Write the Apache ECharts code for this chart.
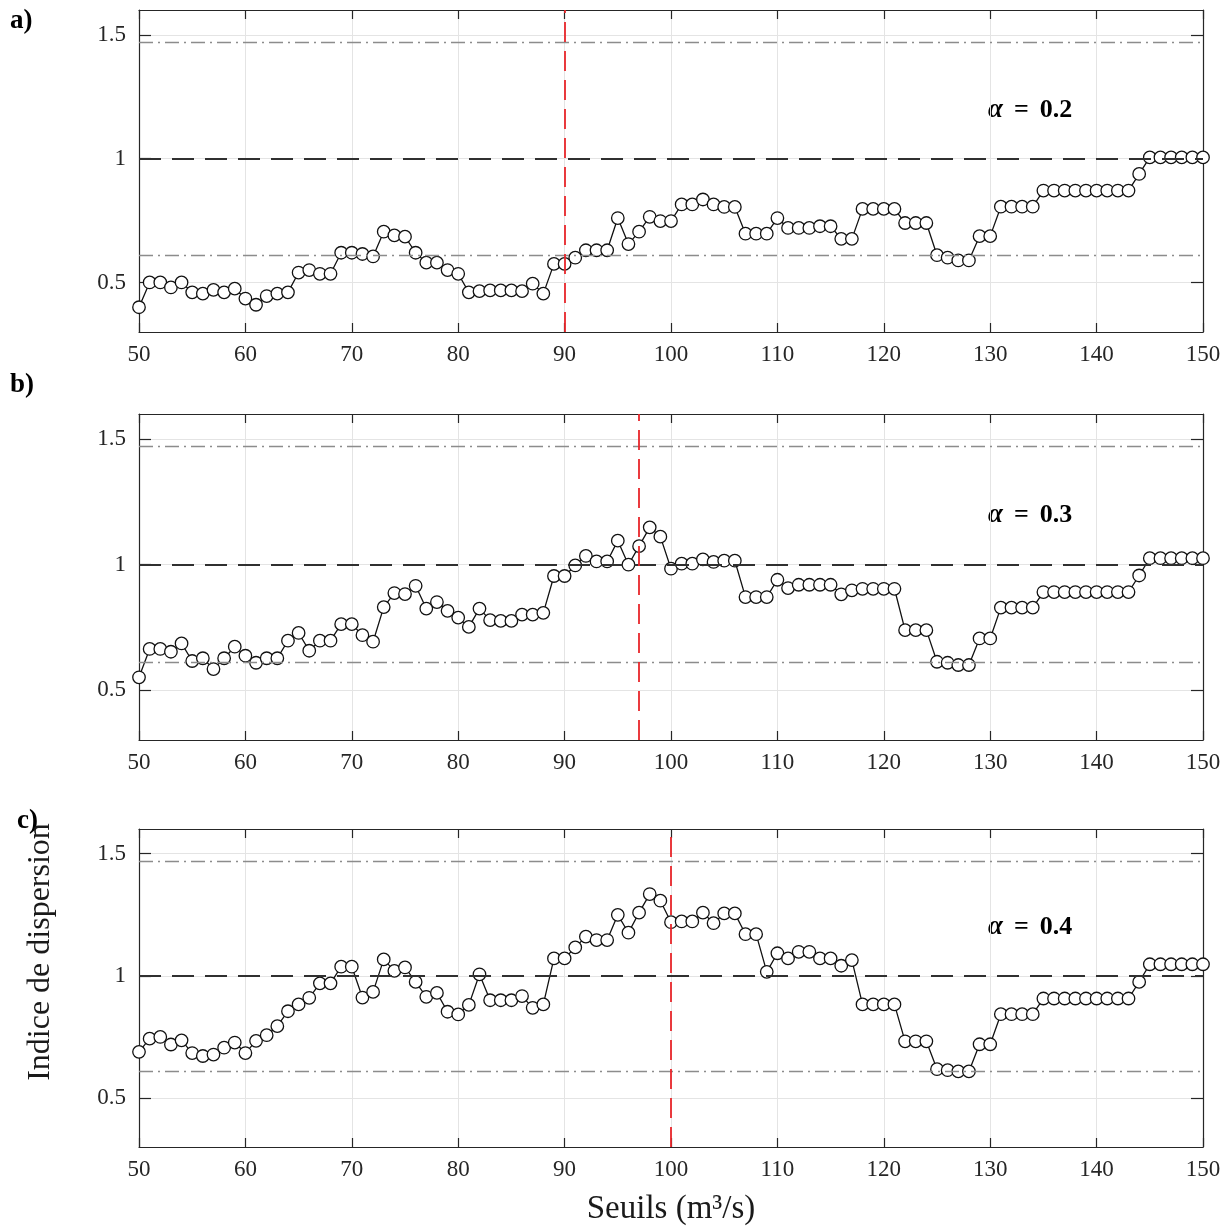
<!DOCTYPE html>
<html><head><meta charset="utf-8">
<script src="https://cdn.jsdelivr.net/npm/echarts@6/dist/echarts.min.js"></script>
<style>html,body{margin:0;padding:0;background:#fff}#c{width:1232px;height:1227px}</style>
</head><body><div id="c"></div><script>
// Thresholds (m3/s)
const thresholds = [
  50,51,52,53,54,55,56,57,58,59,
  60,61,62,63,64,65,66,67,68,69,
  70,71,72,73,74,75,76,77,78,79,
  80,81,82,83,84,85,86,87,88,89,
  90,91,92,93,94,95,96,97,98,99,
  100,101,102,103,104,105,106,107,108,109,
  110,111,112,113,114,115,116,117,118,119,
  120,121,122,123,124,125,126,127,128,129,
  130,131,132,133,134,135,136,137,138,139,
  140,141,142,143,144,145,146,147,148,149,
  150];
// Dispersion index, alpha = 0.2
const alpha02 = [
  0.40,0.50,0.50,0.48,0.50,0.46,0.455,0.47,0.46,0.475,
  0.435,0.41,0.445,0.455,0.46,0.54,0.55,0.535,0.535,0.62,
  0.62,0.615,0.605,0.705,0.69,0.685,0.62,0.58,0.58,0.55,
  0.535,0.46,0.465,0.468,0.468,0.468,0.465,0.495,0.455,0.575,
  0.575,0.60,0.63,0.63,0.63,0.76,0.655,0.705,0.765,0.748,
  0.748,0.815,0.815,0.835,0.815,0.805,0.805,0.697,0.697,0.697,
  0.76,0.72,0.72,0.72,0.727,0.727,0.676,0.676,0.797,0.797,
  0.797,0.797,0.74,0.74,0.74,0.61,0.60,0.589,0.589,0.687,
  0.687,0.806,0.806,0.806,0.806,0.871,0.871,0.871,0.871,0.871,
  0.871,0.871,0.871,0.871,0.938,1.005,1.005,1.005,1.005,1.005,
  1.005];
// alpha = 0.3
const alpha03 = [
  0.55,0.663,0.663,0.652,0.685,0.615,0.626,0.583,0.626,0.672,
  0.636,0.608,0.626,0.626,0.696,0.727,0.656,0.696,0.696,0.762,
  0.762,0.718,0.692,0.83,0.886,0.882,0.915,0.824,0.85,0.815,
  0.788,0.751,0.824,0.778,0.775,0.775,0.80,0.80,0.807,0.954,
  0.954,0.996,1.034,1.012,1.012,1.095,0.999,1.073,1.148,1.111,
  0.983,1.003,1.003,1.02,1.01,1.015,1.015,0.87,0.87,0.87,
  0.939,0.906,0.919,0.919,0.919,0.919,0.881,0.897,0.903,0.903,
  0.903,0.903,0.738,0.738,0.738,0.612,0.608,0.599,0.599,0.705,
  0.705,0.828,0.828,0.828,0.828,0.89,0.89,0.89,0.89,0.89,
  0.89,0.89,0.89,0.89,0.956,1.025,1.025,1.025,1.025,1.025,
  1.025];
// alpha = 0.4
const alpha04 = [
  0.689,0.743,0.75,0.719,0.736,0.684,0.672,0.678,0.706,0.727,
  0.684,0.734,0.757,0.794,0.855,0.883,0.91,0.969,0.969,1.037,
  1.037,0.911,0.934,1.067,1.02,1.034,0.975,0.914,0.93,0.853,
  0.842,0.881,1.006,0.90,0.90,0.90,0.917,0.869,0.883,1.071,
  1.071,1.116,1.16,1.146,1.146,1.249,1.176,1.258,1.334,1.307,
  1.219,1.222,1.222,1.258,1.215,1.255,1.255,1.17,1.17,1.016,
  1.092,1.071,1.098,1.098,1.071,1.071,1.041,1.064,0.883,0.883,
  0.883,0.883,0.732,0.732,0.732,0.618,0.614,0.609,0.609,0.72,
  0.72,0.843,0.843,0.843,0.843,0.907,0.907,0.907,0.907,0.907,
  0.907,0.907,0.907,0.907,0.975,1.047,1.047,1.047,1.047,1.047,
  1.047];
const panelLabels = ['a)', 'b)', 'c)'];
const alphaValues = ['0.2', '0.3', '0.4'];
const optimalThresholds = [90, 97, 100];
const unityLine = 1;
const upperBound = 1.47;
const lowerBound = 0.61;
const yTickValues = [0.5, 1, 1.5];
const xTickValues = [50, 60, 70, 80, 90, 100, 110, 120, 130, 140, 150];
const xName = 'Seuils (m³/s)';
const yName = 'Indice de dispersion';

const seriesValues = [alpha02, alpha03, alpha04];
const FONT = '"Liberation Serif", "Times New Roman", serif';
const grids = [
  {left: 139, width: 1064, top: 10, height: 322},
  {left: 139, width: 1064, top: 414, height: 326},
  {left: 139, width: 1064, top: 829, height: 318}
];
const axisColor = '#262626';
const xAxes = [], yAxes = [], series = [];
grids.forEach((g, i) => {
  const common = {
    type: 'value', gridIndex: i, min: 50, max: 150,
    axisLine: {show: true, lineStyle: {color: axisColor, width: 1.2}},
    axisTick: {show: true, inside: true, length: 9, lineStyle: {color: axisColor, width: 1.2}, customValues: xTickValues},
  };
  xAxes.push(Object.assign({}, common, {
    position: 'bottom',
    axisLabel: {show: true, fontSize: 23, fontFamily: FONT, color: axisColor, margin: 11, customValues: xTickValues},
    splitLine: {show: true, lineStyle: {color: '#e4e4e4', width: 1}}
  }));
  xAxes.push(Object.assign({}, common, {
    position: 'top', axisLabel: {show: false}, splitLine: {show: false}
  }));
  const ycommon = {
    type: 'value', gridIndex: i, min: 0.3, max: 1.6,
    axisLine: {show: true, lineStyle: {color: axisColor, width: 1.2}},
    axisTick: {show: true, inside: true, length: 12, lineStyle: {color: axisColor, width: 1.2}, customValues: yTickValues},
  };
  yAxes.push(Object.assign({}, ycommon, {
    position: 'left',
    axisLabel: {show: true, fontSize: 23, fontFamily: FONT, color: axisColor, margin: 13, customValues: yTickValues},
    splitLine: {show: true, lineStyle: {color: '#e4e4e4', width: 1}}
  }));
  yAxes.push(Object.assign({}, ycommon, {
    position: 'right', axisLabel: {show: false}, splitLine: {show: false}
  }));
  // horizontal reference lines (below the points)
  series.push({
    type: 'line', xAxisIndex: 2 * i, yAxisIndex: 2 * i, data: [], z: 1, silent: true,
    markLine: {
      symbol: 'none', silent: true, animation: false, label: {show: false},
      data: [
        {yAxis: unityLine, lineStyle: {type: [22, 11], color: '#303030', width: 2}},
        {yAxis: upperBound, lineStyle: {type: [14, 5, 2, 5], color: '#8c8c8c', width: 1.3}},
        {yAxis: lowerBound, lineStyle: {type: [14, 5, 2, 5], color: '#8c8c8c', width: 1.3}}
      ]
    }
  });
  series.push({
    type: 'line', xAxisIndex: 2 * i, yAxisIndex: 2 * i, z: 3,
    data: thresholds.map((t, k) => [t, seriesValues[i][k]]),
    symbol: 'circle', symbolSize: 12.5, showSymbol: true,
    lineStyle: {color: '#111', width: 1.3},
    itemStyle: {color: '#fff', borderColor: '#111', borderWidth: 1.3},
    animation: false
  });
  series.push({
    type: 'line', xAxisIndex: 2 * i, yAxisIndex: 2 * i, data: [], z: 5, silent: true,
    markLine: {
      symbol: 'none', silent: true, animation: false, label: {show: false},
      data: [{xAxis: optimalThresholds[i], lineStyle: {type: [20, 9], color: '#e8262b', width: 1.8}}]
    }
  });
});

const alphaCenters = [110, 515, 927];
const panelTops = [8, 372, 808];
const panelLefts = [10, 10, 17];
const graphic = [];
grids.forEach((g, i) => {
  graphic.push({
    type: 'text', left: panelLefts[i], top: panelTops[i],
    style: {text: panelLabels[i], font: 'bold 27px ' + FONT, fill: '#000'}
  });
  graphic.push({
    type: 'text', x: 988, y: alphaCenters[i],
    style: {
      text: '{a|α}{g| }{b|=}{g| }{b|' + alphaValues[i] + '}',
      verticalAlign: 'middle', align: 'left',
      rich: {
        a: {fontStyle: 'italic', fontWeight: 'bold', fontSize: 27, fontFamily: FONT, fill: '#000'},
        g: {width: 11, fontSize: 26, fontFamily: FONT},
        b: {fontWeight: 'bold', fontSize: 26, fontFamily: FONT, fill: '#000'}
      }
    }
  });
});
graphic.push({
  type: 'text', x: 671, y: 1209,
  style: {text: xName, font: '33px ' + FONT, fill: '#1a1a1a', align: 'center', verticalAlign: 'middle'}
});
graphic.push({
  type: 'text', x: 41, y: 952, rotation: Math.PI / 2,
  style: {text: yName, font: '32px ' + FONT, fill: '#1a1a1a', align: 'center', verticalAlign: 'middle'}
});

const chart = echarts.init(document.getElementById('c'), null, {renderer: 'canvas'});
chart.setOption({
  backgroundColor: '#fff',
  animation: false,
  grid: grids,
  xAxis: xAxes,
  yAxis: yAxes,
  series: series,
  graphic: graphic
});
</script></body></html>
